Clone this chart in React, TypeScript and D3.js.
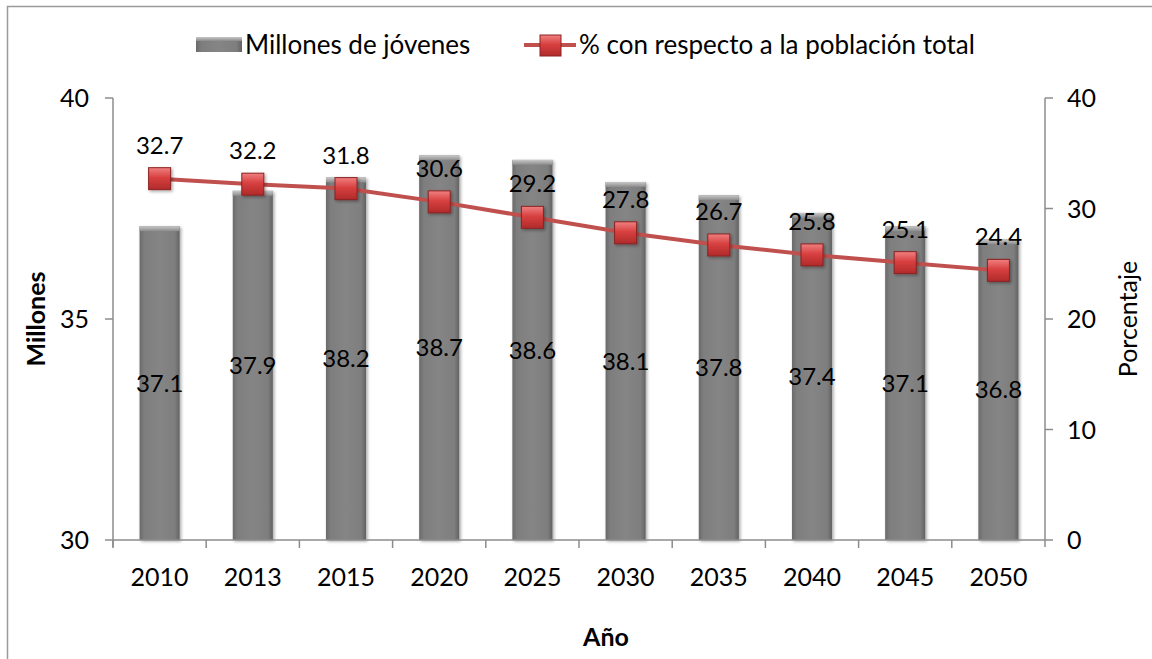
import { useEffect } from "react";
import * as d3 from "d3";

const width = 1152;
const height = 659;
const marginLeft = 113;
const marginRight = 107;
const marginTop = 98;
const marginBottom = 119;

const years = ["2010", "2013", "2015", "2020", "2025", "2030", "2035", "2040", "2045", "2050"];
const millones = [37.1, 37.9, 38.2, 38.7, 38.6, 38.1, 37.8, 37.4, 37.1, 36.8];
const porcentaje = [32.7, 32.2, 31.8, 30.6, 29.2, 27.8, 26.7, 25.8, 25.1, 24.4];
const leftTicks = [30, 35, 40];
const rightTicks = [0, 10, 20, 30, 40];

const font = "Lato, 'Open Sans', sans-serif";
const axisColor = "#8c8c8c";

const App = () => {
  useEffect(() => {
    document.body.style.margin = "0";
  }, []);

  const chartBottomY = height - marginBottom;

  const xScale = d3
    .scaleBand()
    .domain(years)
    .range([marginLeft, width - marginRight])
    .paddingInner(0.57)
    .paddingOuter(0.285);

  // category slots (for tick marks) use no padding
  const slot = d3.scaleBand().domain(years).range([marginLeft, width - marginRight]);

  const yLeft = d3.scaleLinear().domain([30, 40]).range([chartBottomY, marginTop]);
  const yRight = d3.scaleLinear().domain([0, 40]).range([chartBottomY, marginTop]);

  const cx = (y) => xScale(y) + xScale.bandwidth() / 2;

  const line = d3
    .line()
    .x((d, i) => cx(years[i]))
    .y((d) => yRight(d));

  const bw = xScale.bandwidth();
  const mk = 22;

  return (
    <svg width={width} height={height} style={{ display: "block", background: "#fff" }}>
      <defs>
        <linearGradient id="barGrad" x1="0" x2="1" y1="0" y2="0">
          <stop offset="0" stopColor="#6a6a6a" />
          <stop offset="0.12" stopColor="#7e7e7e" />
          <stop offset="0.5" stopColor="#858585" />
          <stop offset="0.88" stopColor="#7e7e7e" />
          <stop offset="1" stopColor="#626262" />
        </linearGradient>
        <linearGradient id="barTop" x1="0" x2="0" y1="0" y2="1">
          <stop offset="0" stopColor="#c8c8c8" />
          <stop offset="1" stopColor="#8a8a8a" />
        </linearGradient>
        <linearGradient id="mkGrad" x1="0" x2="0" y1="0" y2="1">
          <stop offset="0" stopColor="#f08080" />
          <stop offset="0.45" stopColor="#d84040" />
          <stop offset="1" stopColor="#b02a2a" />
        </linearGradient>
        <filter id="shadow" x="-30%" y="-30%" width="160%" height="160%">
          <feDropShadow dx="1.5" dy="1.5" stdDeviation="1.5" floodColor="#000" floodOpacity="0.35" />
        </filter>
      </defs>

      {/* outer frame */}
      <rect x={7.5} y={6.5} width={1160} height={680} fill="none" stroke="#9a9a9a" strokeWidth={1.5} />

      {/* legend */}
      <g fontFamily={font} fontSize={26} fill="#000">
        <rect x={196} y={37} width={46} height={15} fill="url(#barGrad)" />
        <rect x={196} y={37} width={46} height={4} fill="url(#barTop)" />
        <text x={245} y={54}>Millones de jóvenes</text>
        <line x1={524} x2={576} y1={45} y2={45} stroke="#c0504d" strokeWidth={4} />
        <rect x={540} y={35} width={21} height={21} fill="url(#mkGrad)" stroke="#8b2323" strokeWidth={1} />
        <text x={579} y={54}>% con respecto a la población total</text>
      </g>

      {/* bars */}
      <g className="bars">
        {millones.map((v, i) => {
          const x = xScale(years[i]);
          const y = yLeft(v);
          return (
            <g key={years[i]} filter="url(#shadow)">
              <rect x={x} y={y} width={bw} height={chartBottomY - y} fill="url(#barGrad)" />
              <rect x={x} y={y} width={bw} height={5} fill="url(#barTop)" />
            </g>
          );
        })}
      </g>

      {/* axes */}
      <g stroke={axisColor} strokeWidth={1.5}>
        <line x1={marginLeft} x2={marginLeft} y1={marginTop} y2={chartBottomY + 7} />
        {leftTicks.map((t) => (
          <line key={t} x1={marginLeft - 8} x2={marginLeft} y1={yLeft(t)} y2={yLeft(t)} />
        ))}
        <line x1={marginLeft} x2={width - marginRight} y1={chartBottomY} y2={chartBottomY} />
        {years.map((y) => (
          <line key={y} x1={slot(y)} x2={slot(y)} y1={chartBottomY} y2={chartBottomY + 8} />
        ))}
        <line x1={width - marginRight} x2={width - marginRight} y1={marginTop} y2={chartBottomY + 7} />
        {rightTicks.map((t) => (
          <line key={t} x1={width - marginRight} x2={width - marginRight + 8} y1={yRight(t)} y2={yRight(t)} />
        ))}
      </g>

      <g fontFamily={font} fontSize={25} fill="#000">
        {leftTicks.map((t) => (
          <text key={t} x={marginLeft - 24} y={yLeft(t)} dy="0.36em" textAnchor="end">
            {t}
          </text>
        ))}
        {rightTicks.map((t) => (
          <text key={t} x={width - marginRight + 22} y={yRight(t)} dy="0.36em">
            {t}
          </text>
        ))}
        {years.map((y) => (
          <text key={y} x={cx(y)} y={chartBottomY + 46} textAnchor="middle">
            {y}
          </text>
        ))}
      </g>

      {/* axis titles */}
      <g fontFamily={font} fontSize={25} fill="#000">
        <text transform={`translate(45,${(marginTop + chartBottomY) / 2}) rotate(-90)`} textAnchor="middle" fontWeight="bold">
          Millones
        </text>
        <text transform={`translate(1137,${(marginTop + chartBottomY) / 2}) rotate(-90)`} textAnchor="middle">
          Porcentaje
        </text>
        <text x={606} y={646} textAnchor="middle" fontWeight="bold">
          Año
        </text>
      </g>

      {/* line + markers */}
      <path d={line(porcentaje)} fill="none" stroke="#c0504d" strokeWidth={4} />
      {porcentaje.map((v, i) => (
        <rect
          key={years[i]}
          x={cx(years[i]) - mk / 2}
          y={yRight(v) - mk / 2}
          width={mk}
          height={mk}
          fill="url(#mkGrad)"
          stroke="#8b2323"
          strokeWidth={1}
          filter="url(#shadow)"
        />
      ))}

      {/* data labels */}
      <g fontFamily={font} fontSize={24} fill="#000" textAnchor="middle">
        {porcentaje.map((v, i) => (
          <text key={years[i]} x={cx(years[i])} y={yRight(v) - 25}>
            {v.toFixed(1)}
          </text>
        ))}
        {millones.map((v, i) => (
          <text key={years[i]} x={cx(years[i])} y={(yLeft(v) + chartBottomY) / 2} dy="0.36em">
            {v.toFixed(1)}
          </text>
        ))}
      </g>
    </svg>
  );
};

export default App;
